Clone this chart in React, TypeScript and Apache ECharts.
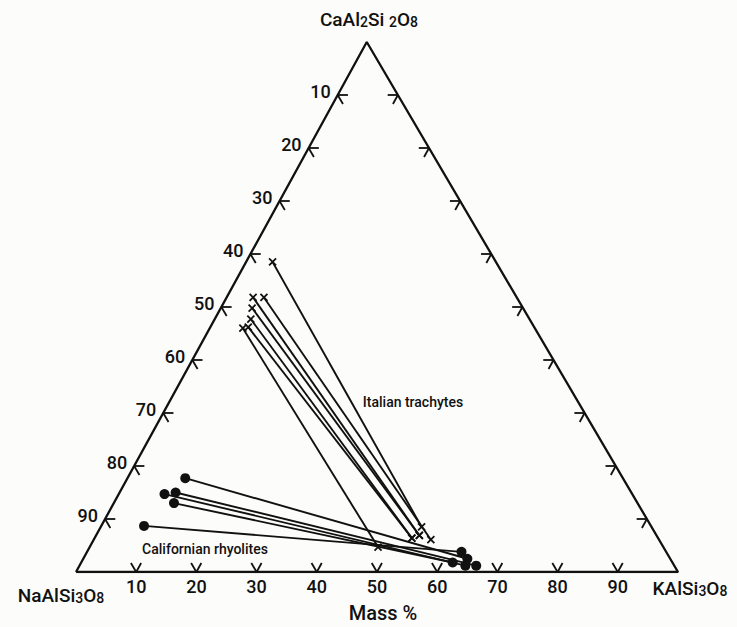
import React, { useEffect, useRef } from "react";
import * as echarts from "echarts";

// Ternary data: each point is [Or (KAlSi3O8 %), An (CaAl2Si2O8 %)]; Ab = 100 - Or - An
const TRACHYTE_PLAG = [
  [4.4, 58.5],
  [4.4, 51.8],
  [6.2, 51.8],
  [5.2, 49.8],
  [6.0, 47.7],
  [6.3, 46.2],
  [5.5, 46.0],
];
const TRACHYTE_SAN = [
  [53.3, 8.5],
  [53.7, 6.9],
  [56.0, 6.1],
  [53.7, 6.9],
  [52.7, 6.4],
  [52.7, 6.4],
  [47.9, 4.7],
];
const RHYOLITE_PLAG = [
  [9.6, 17.7],
  [7.6, 14.7],
  [9.3, 15.0],
  [10.0, 13.0],
  [7.1, 8.7],
];
const RHYOLITE_SAN = [
  [63.8, 2.5],
  [64.1, 1.2],
  [65.9, 1.2],
  [61.7, 1.8],
  [62.2, 3.8],
];

const LEFT_TICKS = [10, 20, 30, 40, 50, 60, 70, 80, 90]; // NaAlSi3O8 %
const BOTTOM_TICKS = [10, 20, 30, 40, 50, 60, 70, 80, 90]; // KAlSi3O8 %
const RIGHT_TICKS = [10, 20, 30, 40, 50, 60, 70, 80, 90]; // CaAl2Si2O8 %

const APEX = 0.483; // horizontal position of the apex as a fraction of the base
const tern = (or: number, an: number) => [or + APEX * an, an];

const FONT = "Roboto, 'Liberation Sans', sans-serif";
const INK = "#111111";
const TL = 1.7; // tick stroke length in ternary units

function tickSeries(values: number[], kind: "left" | "bottom" | "right") {
  return {
    type: "custom",
    coordinateSystem: "cartesian2d",
    clip: false,
    silent: true,
    z: 3,
    data: values.map((v) => [v, 0]),
    renderItem: (params: any, api: any) => {
      const v = api.value(0);
      let p: number[], a: number[], b: number[];
      const children: any[] = [];
      const ts = {
        fontSize: 18,
        fontFamily: FONT,
        fontWeight: 500,
        fill: INK,
        verticalAlign: "middle",
      };
      if (kind === "left") {
        const an = 100 - v;
        p = api.coord(tern(0, an));
        a = api.coord(tern(TL, an));
        b = api.coord(tern(TL, an - TL));
        children.push({
          type: "text",
          x: p[0] - 7,
          y: p[1] - 4,
          style: { ...ts, text: String(v), align: "right" },
        });
      } else if (kind === "bottom") {
        p = api.coord(tern(v, 0));
        a = api.coord(tern(v, TL));
        b = api.coord(tern(v - TL, TL));
        children.push({
          type: "text",
          x: p[0],
          y: p[1] + 14,
          style: { ...ts, text: String(v), align: "center" },
        });
      } else {
        p = api.coord(tern(100 - v, v));
        a = api.coord(tern(100 - v - TL, v));
        b = api.coord(tern(100 - v, v - TL));
      }
      const ls = { stroke: INK, lineWidth: 1.8 };
      children.push({ type: "line", shape: { x1: p[0], y1: p[1], x2: a[0], y2: a[1] }, style: ls });
      children.push({ type: "line", shape: { x1: p[0], y1: p[1], x2: b[0], y2: b[1] }, style: ls });
      return { type: "group", children };
    },
  };
}

export default function App() {
  const ref = useRef<HTMLDivElement>(null);
  useEffect(() => {
    const chart = echarts.init(ref.current!, null, { renderer: "svg" });
    const frame = [tern(0, 0), tern(100, 0), tern(0, 100), tern(0, 0)];
    const trachyteLines = TRACHYTE_PLAG.map((p, i) => ({
      coords: [tern(p[0], p[1]), tern(TRACHYTE_SAN[i][0], TRACHYTE_SAN[i][1])],
    }));
    const rhyoliteLines = RHYOLITE_PLAG.map((p, i) => ({
      coords: [tern(p[0], p[1]), tern(RHYOLITE_SAN[i][0], RHYOLITE_SAN[i][1])],
    }));
    const crosses = [...TRACHYTE_PLAG, ...TRACHYTE_SAN].map((p) => tern(p[0], p[1]));
    const dots = [...RHYOLITE_PLAG, ...RHYOLITE_SAN].map((p) => tern(p[0], p[1]));

    const rich = {
      n: { fontSize: 19, fontFamily: FONT, fontWeight: 500, fill: INK, verticalAlign: "bottom" },
      s: { fontSize: 14, fontFamily: FONT, fontWeight: 500, fill: INK, verticalAlign: "bottom" },
    };
    const note = {
      fontSize: 14,
      fontFamily: FONT,
      fontWeight: 500,
      fill: INK,
      align: "center",
      verticalAlign: "middle",
    };

    chart.setOption({
      animation: false,
      backgroundColor: "#fcfcfa",
      grid: { left: 76, right: 59, top: 42, bottom: 55 },
      xAxis: { type: "value", min: 0, max: 100, show: false },
      yAxis: { type: "value", min: 0, max: 100, show: false },
      series: [
        {
          type: "line",
          data: frame,
          symbol: "none",
          silent: true,
          z: 2,
          lineStyle: { color: INK, width: 2.3 },
        },
        {
          type: "lines",
          coordinateSystem: "cartesian2d",
          data: [...trachyteLines, ...rhyoliteLines],
          silent: true,
          z: 3,
          lineStyle: { color: INK, width: 1.9, opacity: 1 },
        },
        {
          type: "scatter",
          data: crosses,
          symbol: "path://M0 0L10 10M10 0L0 10",
          symbolSize: 7,
          silent: true,
          z: 4,
          itemStyle: { color: "none", borderColor: INK, borderWidth: 1.8, opacity: 1 },
        },
        {
          type: "scatter",
          data: dots,
          symbol: "circle",
          symbolSize: 10,
          silent: true,
          z: 4,
          itemStyle: { color: INK, opacity: 1 },
        },
        tickSeries(LEFT_TICKS, "left"),
        tickSeries(BOTTOM_TICKS, "bottom"),
        tickSeries(RIGHT_TICKS, "right"),
      ],
      graphic: [
        {
          type: "text",
          x: 369,
          y: 19,
          style: {
            text: "{n|CaAl}{s|2}{n|Si }{s|2}{n|O}{s|8}",
            rich,
            align: "center",
            verticalAlign: "middle",
          },
        },
        {
          type: "text",
          x: 61,
          y: 595,
          style: {
            text: "{n|NaAlSi}{s|3}{n|O}{s|8}",
            rich,
            align: "center",
            verticalAlign: "middle",
          },
        },
        {
          type: "text",
          x: 690,
          y: 588,
          style: {
            text: "{n|KAlSi}{s|3}{n|O}{s|8}",
            rich,
            align: "center",
            verticalAlign: "middle",
          },
        },
        {
          type: "text",
          x: 383,
          y: 613,
          style: { ...note, text: "Mass %", fontSize: 20 },
        },
        {
          type: "text",
          x: 413,
          y: 402,
          style: { ...note, text: "Italian trachytes" },
        },
        {
          type: "text",
          x: 205,
          y: 549,
          style: { ...note, text: "Californian rhyolites" },
        },
      ],
    });
    return () => chart.dispose();
  }, []);
  return (
    <div
      ref={ref}
      style={{ position: "fixed", left: 0, top: 0, width: 737, height: 627 }}
    />
  );
}
